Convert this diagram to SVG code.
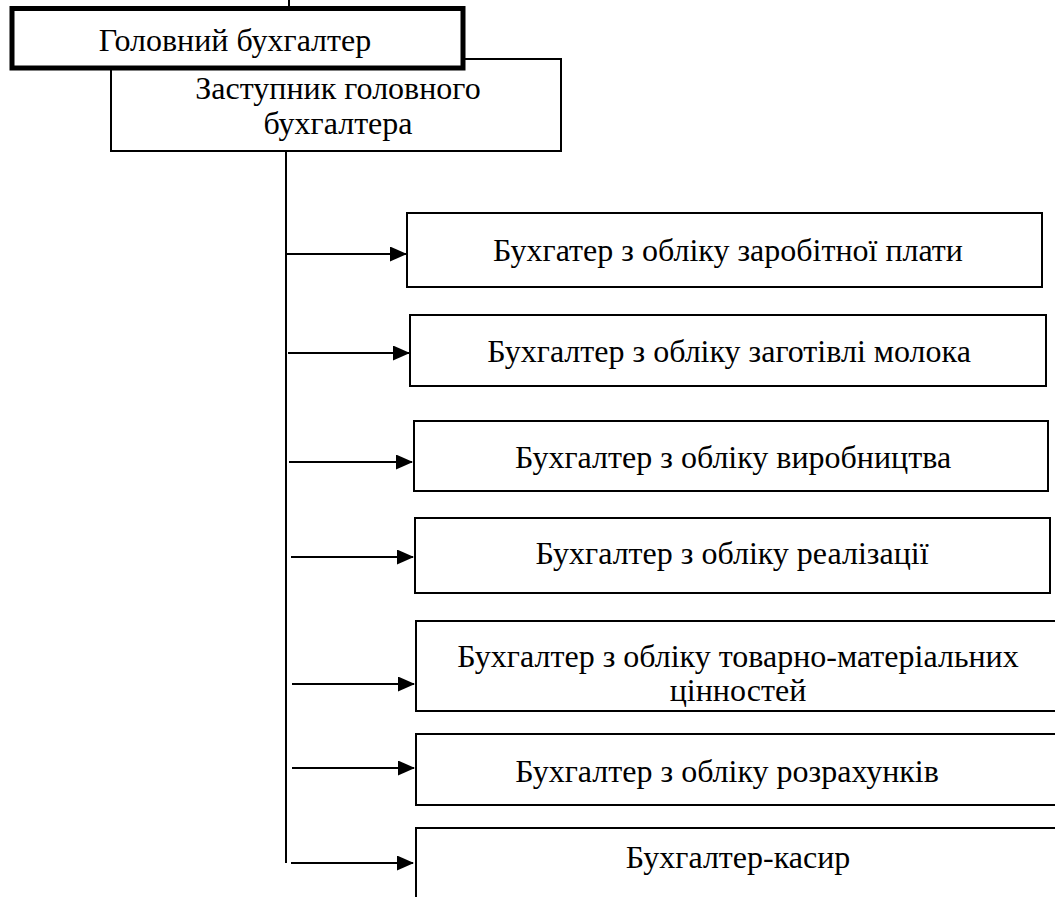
<svg xmlns="http://www.w3.org/2000/svg" width="1055" height="897" viewBox="0 0 1055 897">
<style>
.box{fill:#fff;stroke:#000;stroke-width:2}
.head{fill:#fff;stroke:#000;stroke-width:5}
.t{font-family:"Liberation Serif","Times New Roman",serif;font-size:32px;fill:#000;text-anchor:middle}
.c{stroke:#000;stroke-width:2;fill:none}
</style>
<defs>
<marker id="arr" markerWidth="17" markerHeight="15" refX="16" refY="7.5" orient="auto" markerUnits="userSpaceOnUse">
<path d="M0,0 L17,7.5 L0,15 Z" fill="#000"/>
</marker>
</defs>
<g id="connectors">
<line class="c" x1="289" y1="0" x2="289" y2="9"/>
<line class="c" x1="286" y1="151" x2="286" y2="863"/>
<line class="c" x1="286" y1="254" x2="406" y2="254" marker-end="url(#arr)"/>
<line class="c" x1="288" y1="353" x2="409" y2="353" marker-end="url(#arr)"/>
<line class="c" x1="289" y1="462" x2="412" y2="462" marker-end="url(#arr)"/>
<line class="c" x1="291" y1="557" x2="413" y2="557" marker-end="url(#arr)"/>
<line class="c" x1="292" y1="684" x2="414" y2="684" marker-end="url(#arr)"/>
<line class="c" x1="292" y1="768" x2="414" y2="768" marker-end="url(#arr)"/>
<line class="c" x1="291" y1="863" x2="413" y2="863" marker-end="url(#arr)"/>
</g>
<g id="deputy">
<rect class="box" x="111" y="59" width="450" height="92"/>
<text class="t" x="338" y="99">Заступник головного</text>
<text class="t" x="338" y="134">бухгалтера</text>
</g>
<g id="head">
<rect class="head" x="12" y="8.5" width="451" height="59.5"/>
<text class="t" x="235" y="51">Головний бухгалтер</text>
</g>
<g id="n1">
<rect class="box" x="407" y="213" width="635" height="74"/>
<text class="t" x="728" y="261">Бухгатер з обліку заробітної плати</text>
</g>
<g id="n2">
<rect class="box" x="410" y="315" width="636" height="71"/>
<text class="t" x="729" y="362">Бухгалтер з обліку заготівлі молока</text>
</g>
<g id="n3">
<rect class="box" x="414" y="421" width="634" height="70"/>
<text class="t" x="733" y="468">Бухгалтер з обліку виробництва</text>
</g>
<g id="n4">
<rect class="box" x="415" y="518" width="635" height="75"/>
<text class="t" x="732" y="564">Бухгалтер з обліку реалізації</text>
</g>
<g id="n5">
<rect class="box" x="416" y="621" width="650" height="90"/>
<text class="t" x="738" y="667">Бухгалтер з обліку товарно-матеріальних</text>
<text class="t" x="738" y="701">цінностей</text>
</g>
<g id="n6">
<rect class="box" x="416" y="734" width="650" height="71"/>
<text class="t" x="727" y="782">Бухгалтер з обліку розрахунків</text>
</g>
<g id="n7">
<rect class="box" x="416" y="828" width="650" height="80"/>
<text class="t" x="738" y="868">Бухгалтер-касир</text>
</g>
</svg>
